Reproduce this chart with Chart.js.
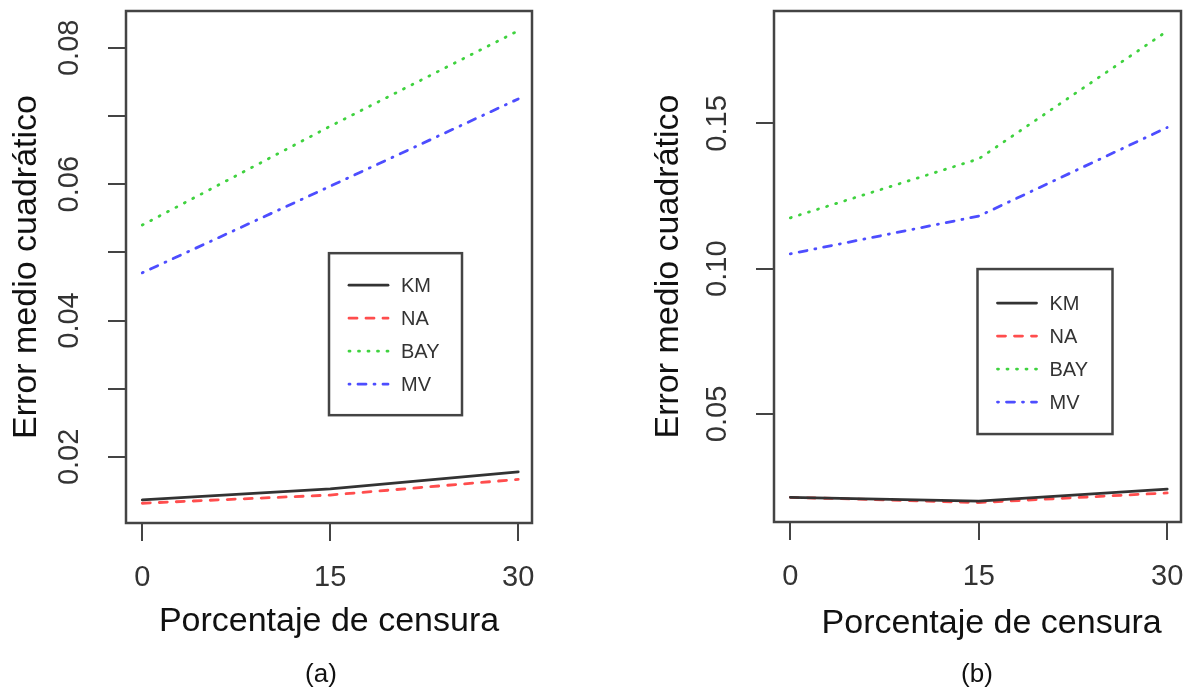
<!DOCTYPE html>
<html>
<head>
<meta charset="utf-8">
<script src="https://cdn.jsdelivr.net/npm/chart.js@4"></script>
<style>
  body { margin: 0; background: #fff; width: 1188px; height: 692px; position: relative; overflow: hidden; font-family: "Liberation Sans", Arial, sans-serif; }
  canvas { position: absolute; top: 0; }
  #chartA { left: 0; }
  #chartB { left: 590px; }
  .cap { position: absolute; top: 658px; width: 100px; text-align: center; font-size: 26px; line-height: 30px; color: #111; }
</style>
</head>
<body>
<canvas id="chartA" width="590" height="692"></canvas>
<canvas id="chartB" width="598" height="692"></canvas>
<div class="cap" style="left:271px">(a)</div>
<div class="cap" style="left:927px">(b)</div>
<script>
// porcentaje de censura
const censura = [0, 15, 30];
const seriesNames = ['KM', 'NA', 'BAY', 'MV'];

// panel (a)
const kmA  = [0.0137, 0.0153, 0.0178];
const naA  = [0.0132, 0.0144, 0.0167];
const bayA = [0.0540, 0.0685, 0.0825];
const mvA  = [0.0470, 0.0597, 0.0725];
const yLabelsA = ['0.02', '0.04', '0.06', '0.08'];

// panel (b)
const kmB  = [0.0213, 0.0200, 0.0241];
const naB  = [0.0213, 0.0195, 0.0228];
const bayB = [0.1175, 0.1378, 0.1818];
const mvB  = [0.1051, 0.1181, 0.1486];
const yLabelsB = ['0.05', '0.10', '0.15'];

const xLabels = ['0', '15', '30'];

const FONT = '"Liberation Sans", Arial, sans-serif';
const styles = [
  { color: '#333333', dash: [] },
  { color: '#ff4d4d', dash: [8, 9] },
  { color: '#3fd23f', dash: [1, 8.5] },
  { color: '#4d4dff', dash: [1, 8, 8, 8] }
];

// R style box around the plot + legend box inside it
const boxLegend = {
  id: 'boxLegend',
  afterDatasetsDraw(chart, args, opts) {
    const ctx = chart.ctx;
    const a = chart.chartArea;
    ctx.save();
    ctx.strokeStyle = '#444';
    ctx.lineWidth = 2.5;
    ctx.strokeRect(a.left, a.top, a.width, a.height);

    const bx = a.left + a.width * opts.x;
    const by = a.top + a.height * opts.y;
    ctx.fillStyle = '#fff';
    ctx.fillRect(bx, by, opts.w, opts.h);
    ctx.strokeRect(bx, by, opts.w, opts.h);

    chart.data.datasets.forEach((ds, i) => {
      const yy = by + opts.first + i * opts.step;
      ctx.setLineDash(ds.borderDash);
      ctx.lineCap = 'round';
      ctx.strokeStyle = ds.borderColor;
      ctx.lineWidth = ds.borderWidth;
      ctx.beginPath();
      ctx.moveTo(bx + 20, yy);
      ctx.lineTo(bx + 59, yy);
      ctx.stroke();
      ctx.setLineDash([]);
      ctx.fillStyle = '#333';
      ctx.font = '20px ' + FONT;
      ctx.textBaseline = 'middle';
      ctx.fillText(ds.label, bx + 72, yy + 1);
    });
    ctx.restore();
  }
};

function makeChart(id, values, yMin, yMax, yStep, yLabels, geo) {
  const datasets = values.map((vals, i) => ({
    label: seriesNames[i],
    data: censura.map((c, j) => ({ x: c, y: vals[j] })),
    borderColor: styles[i].color,
    borderDash: styles[i].dash,
    borderCapStyle: 'round',
    borderWidth: 2.8,
    pointRadius: 0,
    tension: 0,
    fill: false
  }));

  return new Chart(document.getElementById(id), {
    type: 'line',
    data: { datasets: datasets },
    options: {
      responsive: false,
      animation: false,
      devicePixelRatio: 1,
      layout: { padding: { left: 0, top: 11, right: geo.right, bottom: 0 } },
      plugins: {
        legend: { display: false },
        tooltip: { enabled: false },
        boxLegend: geo.legend
      },
      scales: {
        x: {
          type: 'linear',
          min: -1.3,
          max: 31.1,
          border: { display: false },
          grid: { drawOnChartArea: false, tickLength: 18, tickColor: '#444', lineWidth: 2 },
          ticks: {
            stepSize: 15,
            includeBounds: false,
            padding: 20,
            color: '#333',
            font: { family: FONT, size: 29 },
            callback: v => xLabels.includes(String(v)) ? String(v) : ''
          },
          title: {
            display: true,
            text: geo.xTitleLead + 'Porcentaje de censura',
            color: '#111',
            font: { family: FONT, size: 34 },
            padding: { top: 0, bottom: geo.xTitlePad }
          },
          afterFit(s) {
            s.height = geo.xHeight;
            s.paddingLeft = 0; s.paddingRight = 0;
          }
        },
        y: {
          min: yMin,
          max: yMax,
          border: { display: false },
          grid: { drawOnChartArea: false, tickLength: 18, tickColor: '#444', lineWidth: 2 },
          ticks: {
            stepSize: yStep,
            includeBounds: false,
            minRotation: 90,
            maxRotation: 90,
            crossAlign: 'center',
            padding: 10,
            color: '#333',
            font: { family: FONT, size: 29 },
            callback: v => yLabels.includes(v.toFixed(2)) ? v.toFixed(2) : ''
          },
          title: {
            display: true,
            text: 'Error medio cuadrático',
            color: '#111',
            font: { family: FONT, size: 34 },
            padding: { top: geo.yTitlePad, bottom: 0 }
          },
          afterFit(s) {
            s.width = geo.yWidth;
            s.paddingTop = 0; s.paddingBottom = 0;
          }
        }
      }
    },
    plugins: [boxLegend]
  });
}

makeChart('chartA', [kmA, naA, bayA, mvA], 0.0103, 0.0854, 0.01, yLabelsA, {
  right: 58, yWidth: 126, xHeight: 169, xTitlePad: 50, yTitlePad: 6, xTitleLead: '',
  legend: { x: 0.5, y: 0.473, w: 133, h: 162, first: 32, step: 33 }
});

makeChart('chartB', [kmB, naB, bayB, mvB], 0.0128, 0.1887, 0.05, yLabelsB, {
  right: 7, yWidth: 184, xHeight: 170, xTitlePad: 48, yTitlePad: 58, xTitleLead: '   ',
  legend: { x: 0.5, y: 0.505, w: 135, h: 165, first: 34, step: 33 }
});
</script>
</body>
</html>
